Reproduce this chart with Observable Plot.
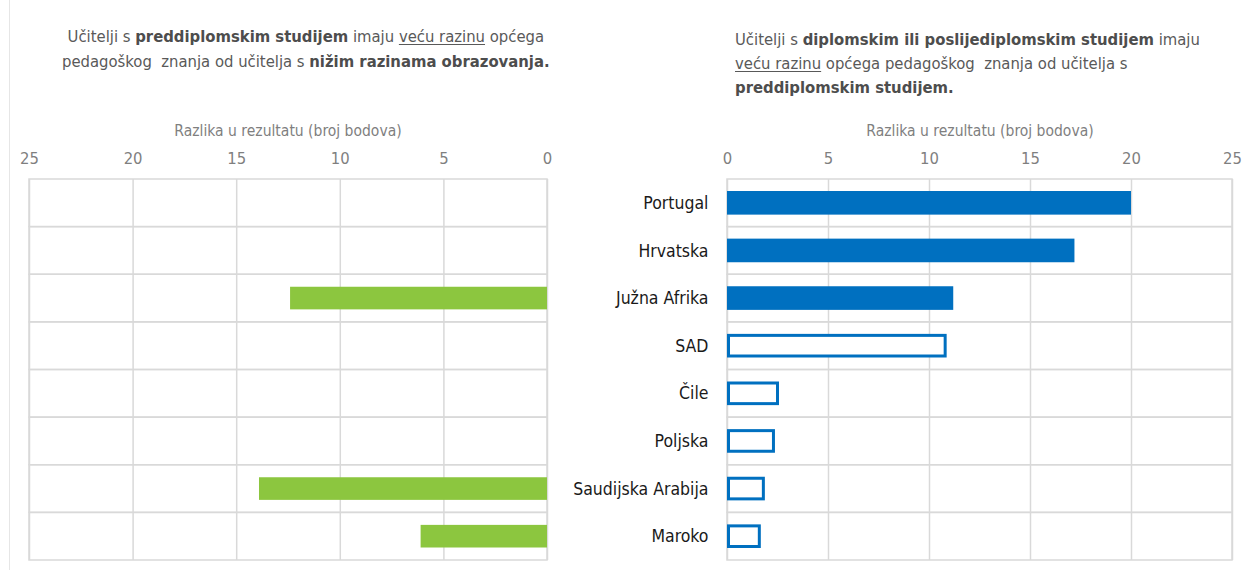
<!DOCTYPE html>
<html><head><meta charset="utf-8">
<script src="https://cdn.jsdelivr.net/npm/d3@7"></script>
<script src="https://cdn.jsdelivr.net/npm/@observablehq/plot@0.6"></script>
<style>
html,body{margin:0;padding:0;background:#fff}
body{width:1243px;height:570px;position:relative;overflow:hidden;font-family:"Liberation Sans Narrow","Arial Narrow","DejaVu Sans Condensed",sans-serif}
.t{position:absolute;font-size:16.5px;color:#595959;line-height:24.5px;white-space:nowrap}
.t b{color:#4d4d4d}
.t u{text-decoration-thickness:1px;text-underline-offset:2px}
.lab{position:absolute;font-size:15.5px;color:#7f7f7f;white-space:nowrap;transform:translateX(-50%)}
.vline{position:absolute;left:9px;top:0;width:1px;height:570px;background:#e6e6e6}
.p{position:absolute;top:110px}
</style></head>
<body>
<div class="vline"></div>
<div class="t" style="left:62px;top:25px;text-align:center">Učitelji s <b>preddiplomskim studijem</b> imaju <u>veću razinu</u> općega<br>pedagoškog&nbsp; znanja od učitelja s <b>nižim razinama obrazovanja.</b></div>
<div class="t" style="left:735px;top:28px;line-height:24px">Učitelji s <b>diplomskim ili poslijediplomskim studijem</b> imaju<br><u>veću razinu</u> općega pedagoškog&nbsp; znanja od učitelja s<br><b>preddiplomskim studijem.</b></div>
<div class="lab" style="left:288px;top:122px">Razlika u rezultatu (broj bodova)</div>
<div class="lab" style="left:980px;top:122px">Razlika u rezultatu (broj bodova)</div>
<div id="left" class="p" style="left:0px"></div>
<div id="right" class="p" style="left:560px"></div>
<script>
const countries = ["Portugal","Hrvatska","Južna Afrika","SAD","Čile","Poljska","Saudijska Arabija","Maroko"];
const postgradDiff = [20.0, 17.2, 11.2, 10.8, 2.5, 2.3, 1.8, 1.6];
const postgradSignificant = [true, true, true, false, false, false, false, false];
const undergradDiff = [null, null, 12.4, null, null, null, 13.9, 6.1];
const xTicks = [0, 5, 10, 15, 20, 25];

const gridColor = "#d9d9d9";
const green = "#8cc63f";
const blue = "#0070c0";
const xMin = d3.min(xTicks), xMax = d3.max(xTicks);
const fontFamily = '"Liberation Sans Narrow","Arial Narrow","DejaVu Sans Condensed",sans-serif';

const leftData = countries.map((c, i) => ({country: c, value: undergradDiff[i]})).filter(d => d.value != null);
const rightData = countries.map((c, i) => ({country: c, value: postgradDiff[i], sig: postgradSignificant[i]}));

const leftPlot = Plot.plot({
  width: 620, height: 460,
  marginTop: 69, marginBottom: 10, marginLeft: 29, marginRight: 73,
  style: {fontFamily, color: "#7f7f7f", background: "transparent"},
  x: {domain: [xMin, xMax], reverse: true},
  y: {domain: countries, padding: 0, round: false, axis: null},
  marks: [
    Plot.barX(countries, {y: d => d, x1: xMin, x2: xMax, fill: "none", stroke: gridColor, strokeWidth: 1.5}),
    Plot.ruleX(xTicks, {stroke: gridColor, strokeWidth: 1.5}),
    Plot.barX(leftData, {y: "country", x1: 0, x2: "value", fill: green, insetTop: 12.5, insetBottom: 12.5}),
    Plot.axisX({anchor: "top", ticks: xTicks, tickSize: 0, tickPadding: 16, fontSize: 16.5, label: null})
  ]
});
document.getElementById("left").appendChild(leftPlot);

const rightPlot = Plot.plot({
  width: 683, height: 460,
  marginTop: 69, marginBottom: 10, marginLeft: 167, marginRight: 11,
  style: {fontFamily, color: "#7f7f7f", background: "transparent"},
  x: {domain: [xMin, xMax]},
  y: {domain: countries, padding: 0, round: false},
  marks: [
    Plot.barX(countries, {y: d => d, x1: xMin, x2: xMax, fill: "none", stroke: gridColor, strokeWidth: 1.5}),
    Plot.ruleX(xTicks, {stroke: gridColor, strokeWidth: 1.5}),
    Plot.barX(rightData.filter(d => d.sig), {y: "country", x1: 0, x2: "value", fill: blue, insetTop: 12, insetBottom: 12}),
    Plot.barX(rightData.filter(d => !d.sig), {y: "country", x1: 0, x2: "value", fill: "white", stroke: blue, strokeWidth: 3, insetTop: 13.5, insetBottom: 13.5, insetLeft: 1.5, insetRight: 0}),
    Plot.axisX({anchor: "top", ticks: xTicks, tickSize: 0, tickPadding: 16, fontSize: 16.5, label: null}),
    Plot.axisY({anchor: "left", tickSize: 0, tickPadding: 19, fontSize: 17.5, fill: "#1a1a1a", label: null})
  ]
});
document.getElementById("right").appendChild(rightPlot);
</script>
</body></html>
